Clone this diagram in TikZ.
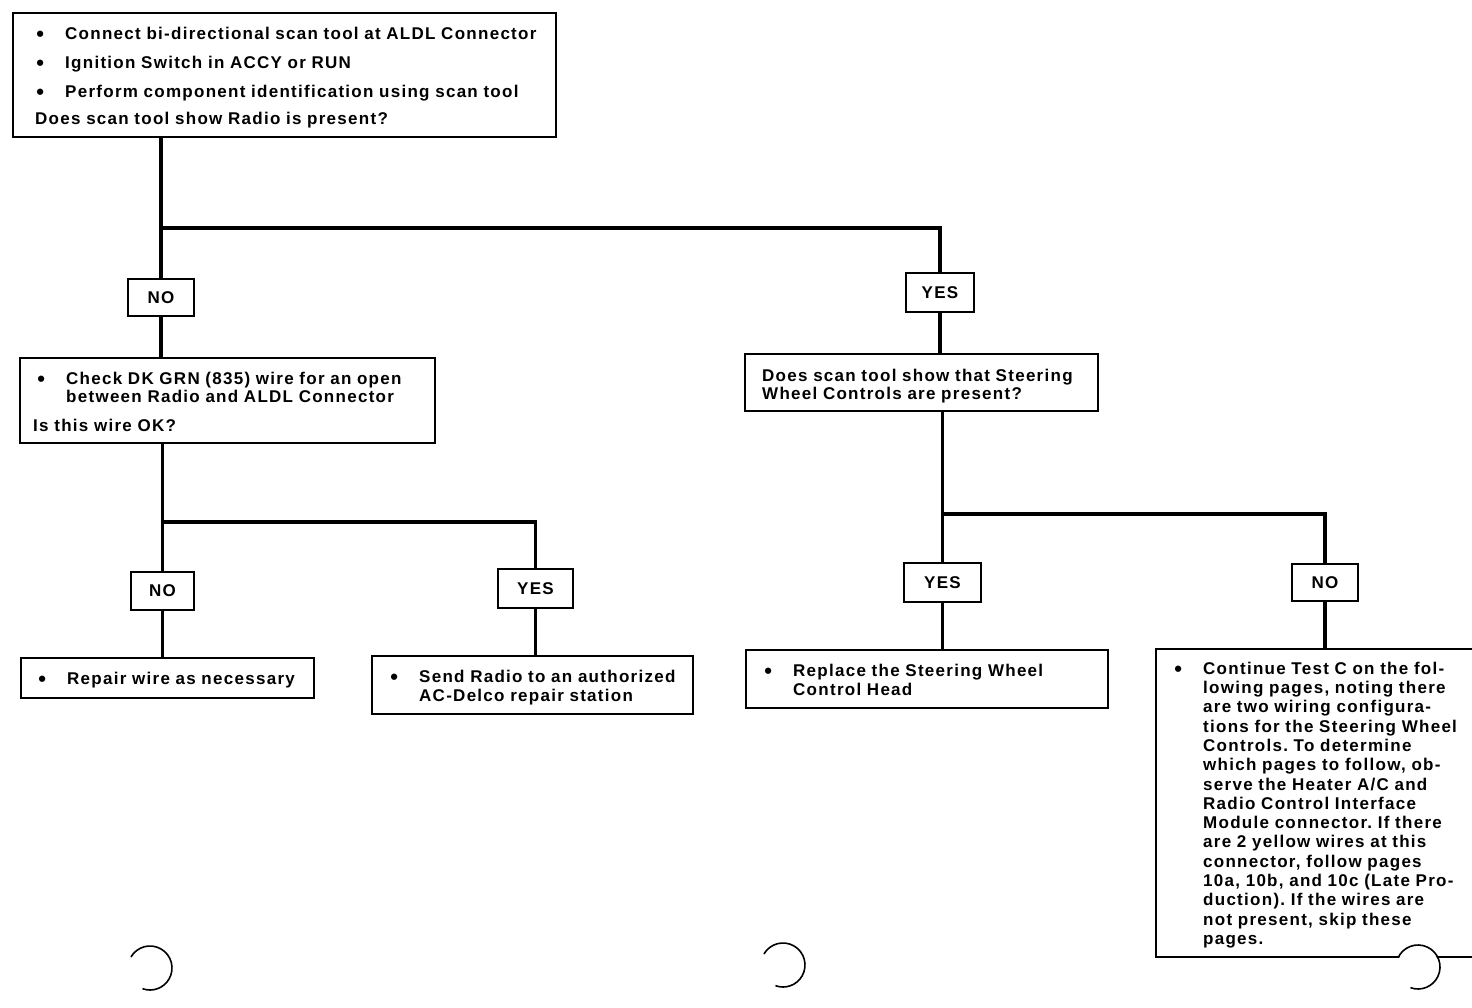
\documentclass[tikz,border=0pt]{standalone}
\usepackage{fontspec}
\newfontfamily\dg{Liberation Sans}[LetterSpace=7.5]
\tikzset{
  box/.style={draw, line width=2pt, inner sep=0pt, anchor=north west},
  lab/.style={draw, line width=2pt, inner sep=0pt, anchor=north west,
    font=\dg\bfseries\fontsize{17}{19}\selectfont},
  txt/.style={inner sep=0pt, anchor=north west, align=left,
    font=\dg\bfseries\fontsize{17}{19}\selectfont,
    execute at begin node={\parindent=0pt\parskip=0pt\frenchspacing}},
  conn/.style={line width=3.2pt},
  hole/.style={line width=1.6pt}
}
\newcommand\bitem{\makebox[25pt][l]{\kern-3.8pt\raisebox{-2pt}{\fontsize{22}{22}\selectfont\textbullet}}}
\newcommand\cl{\hspace*{25pt}}
\newcommand\strt{\rule{0pt}{13pt}}
\begin{document}
\begin{tikzpicture}[x=1pt,y=-1pt]
\path[use as bounding box, clip] (0,0) rectangle (1472,1008);
\fill[white] (0,0) rectangle (1472,1008);

% boxes
\node[box, minimum width=543pt, minimum height=124pt] (top) at (12,12) {};
\node[box, minimum width=415pt, minimum height=85pt] (check) at (19,357) {};
\node[box, minimum width=353pt, minimum height=57pt] (steer) at (744,353) {};
\node[box, minimum width=293pt, minimum height=40pt] (repair) at (20,657) {};
\node[box, minimum width=321pt, minimum height=58pt] (send) at (371,655) {};
\node[box, minimum width=362pt, minimum height=58pt] (replace) at (745,649) {};
\node[box, minimum width=330pt, minimum height=308pt] (cont) at (1155,648) {};

% labels
\node[lab, minimum width=66pt, minimum height=37pt] (no1) at (127,278) {NO};
\node[lab, minimum width=68pt, minimum height=39pt] (yes1) at (905,272) {YES};
\node[lab, minimum width=63pt, minimum height=38pt] (no2) at (130,571) {NO};
\node[lab, minimum width=75pt, minimum height=39pt] (yes2) at (497,568) {YES};
\node[lab, minimum width=77pt, minimum height=39pt] (yes3) at (903,562) {YES};
\node[lab, minimum width=66pt, minimum height=37pt] (no3) at (1291,563) {NO};

% texts
\node[txt, text width=510pt] (topT) at (40,26) {\strt\bitem Connect bi-directional scan tool at ALDL Connector\par\vspace{10pt}%
\bitem Ignition Switch in ACCY or RUN\par\vspace{10pt}%
\bitem Perform component identification using scan tool\par\vspace{8pt}%
\hspace*{-5pt}Does scan tool show Radio is present?};

\node[txt, text width=390pt, font=\dg\bfseries\fontsize{17}{18}\selectfont] (checkT) at (41,371) {\strt\bitem Check DK GRN (835) wire for an open\\\cl between Radio and ALDL Connector\par\vspace{11pt}%
\hspace*{-8pt}Is this wire OK?};

\node[txt, text width=332pt, font=\dg\bfseries\fontsize{17}{18}\selectfont] (steerT) at (762,368) {\strt Does scan tool show that Steering\\Wheel Controls are present?};

\node[txt, text width=268pt] (repairT) at (42,671) {\strt\bitem Repair wire as necessary};

\node[txt, text width=296pt] (sendT) at (394,669) {\strt\bitem Send Radio to an authorized\\\cl AC-Delco repair station};

\node[txt, text width=336pt] (replaceT) at (768,663) {\strt\bitem Replace the Steering Wheel\\\cl Control Head};

\node[txt, text width=293pt, font=\dg\bfseries\fontsize{17}{19.3}\selectfont] (contT) at (1178,661) {\strt\bitem Continue Test C on the fol-\\\cl lowing pages, noting there\\\cl are two wiring configura-\\\cl tions for the Steering Wheel\\\cl Controls. To determine\\\cl which pages to follow, ob-\\\cl serve the Heater A/C and\\\cl Radio Control Interface\\\cl Module connector. If there\\\cl are 2 yellow wires at this\\\cl connector, follow pages\\\cl 10a, 10b, and 10c (Late Pro-\\\cl duction). If the wires are\\\cl not present, skip these\\\cl pages.};

% connectors
\coordinate (j1) at (160,228);
\draw[conn] (top.south -| no1.north) -- (no1.north);
\draw[conn] (j1) -| (yes1.north);
\draw[conn] (no1.south) -- (no1.south |- check.north);
\draw[conn] (yes1.south) -- (yes1.south |- steer.north);

\coordinate (j2) at (161.5,522);
\draw[conn] (check.south -| no2.north) -- (no2.north);
\draw[conn] (j2) -| (yes2.north);
\draw[conn] (no2.south) -- (no2.south |- repair.north);
\draw[conn] (yes2.south) -- (yes2.south |- send.north);

\coordinate (j3) at (941.5,514);
\draw[conn] (steer.south -| yes3.north) -- (yes3.north);
\draw[conn] (j3) -| (no3.north);
\draw[conn] (yes3.south) -- (yes3.south |- replace.north);
\draw[conn] (no3.south) -- (no3.south |- cont.north);

% punch holes
\draw[hole] (150,968) ++(-150:22) arc[start angle=-150, end angle=110, radius=22];
\draw[hole] (783,965) ++(-150:22) arc[start angle=-150, end angle=110, radius=22];
\fill[white] (1418,967) circle[radius=21];
\draw[hole] (1418,967) ++(-155:22) arc[start angle=-155, end angle=110, radius=22];
\end{tikzpicture}
\end{document}
